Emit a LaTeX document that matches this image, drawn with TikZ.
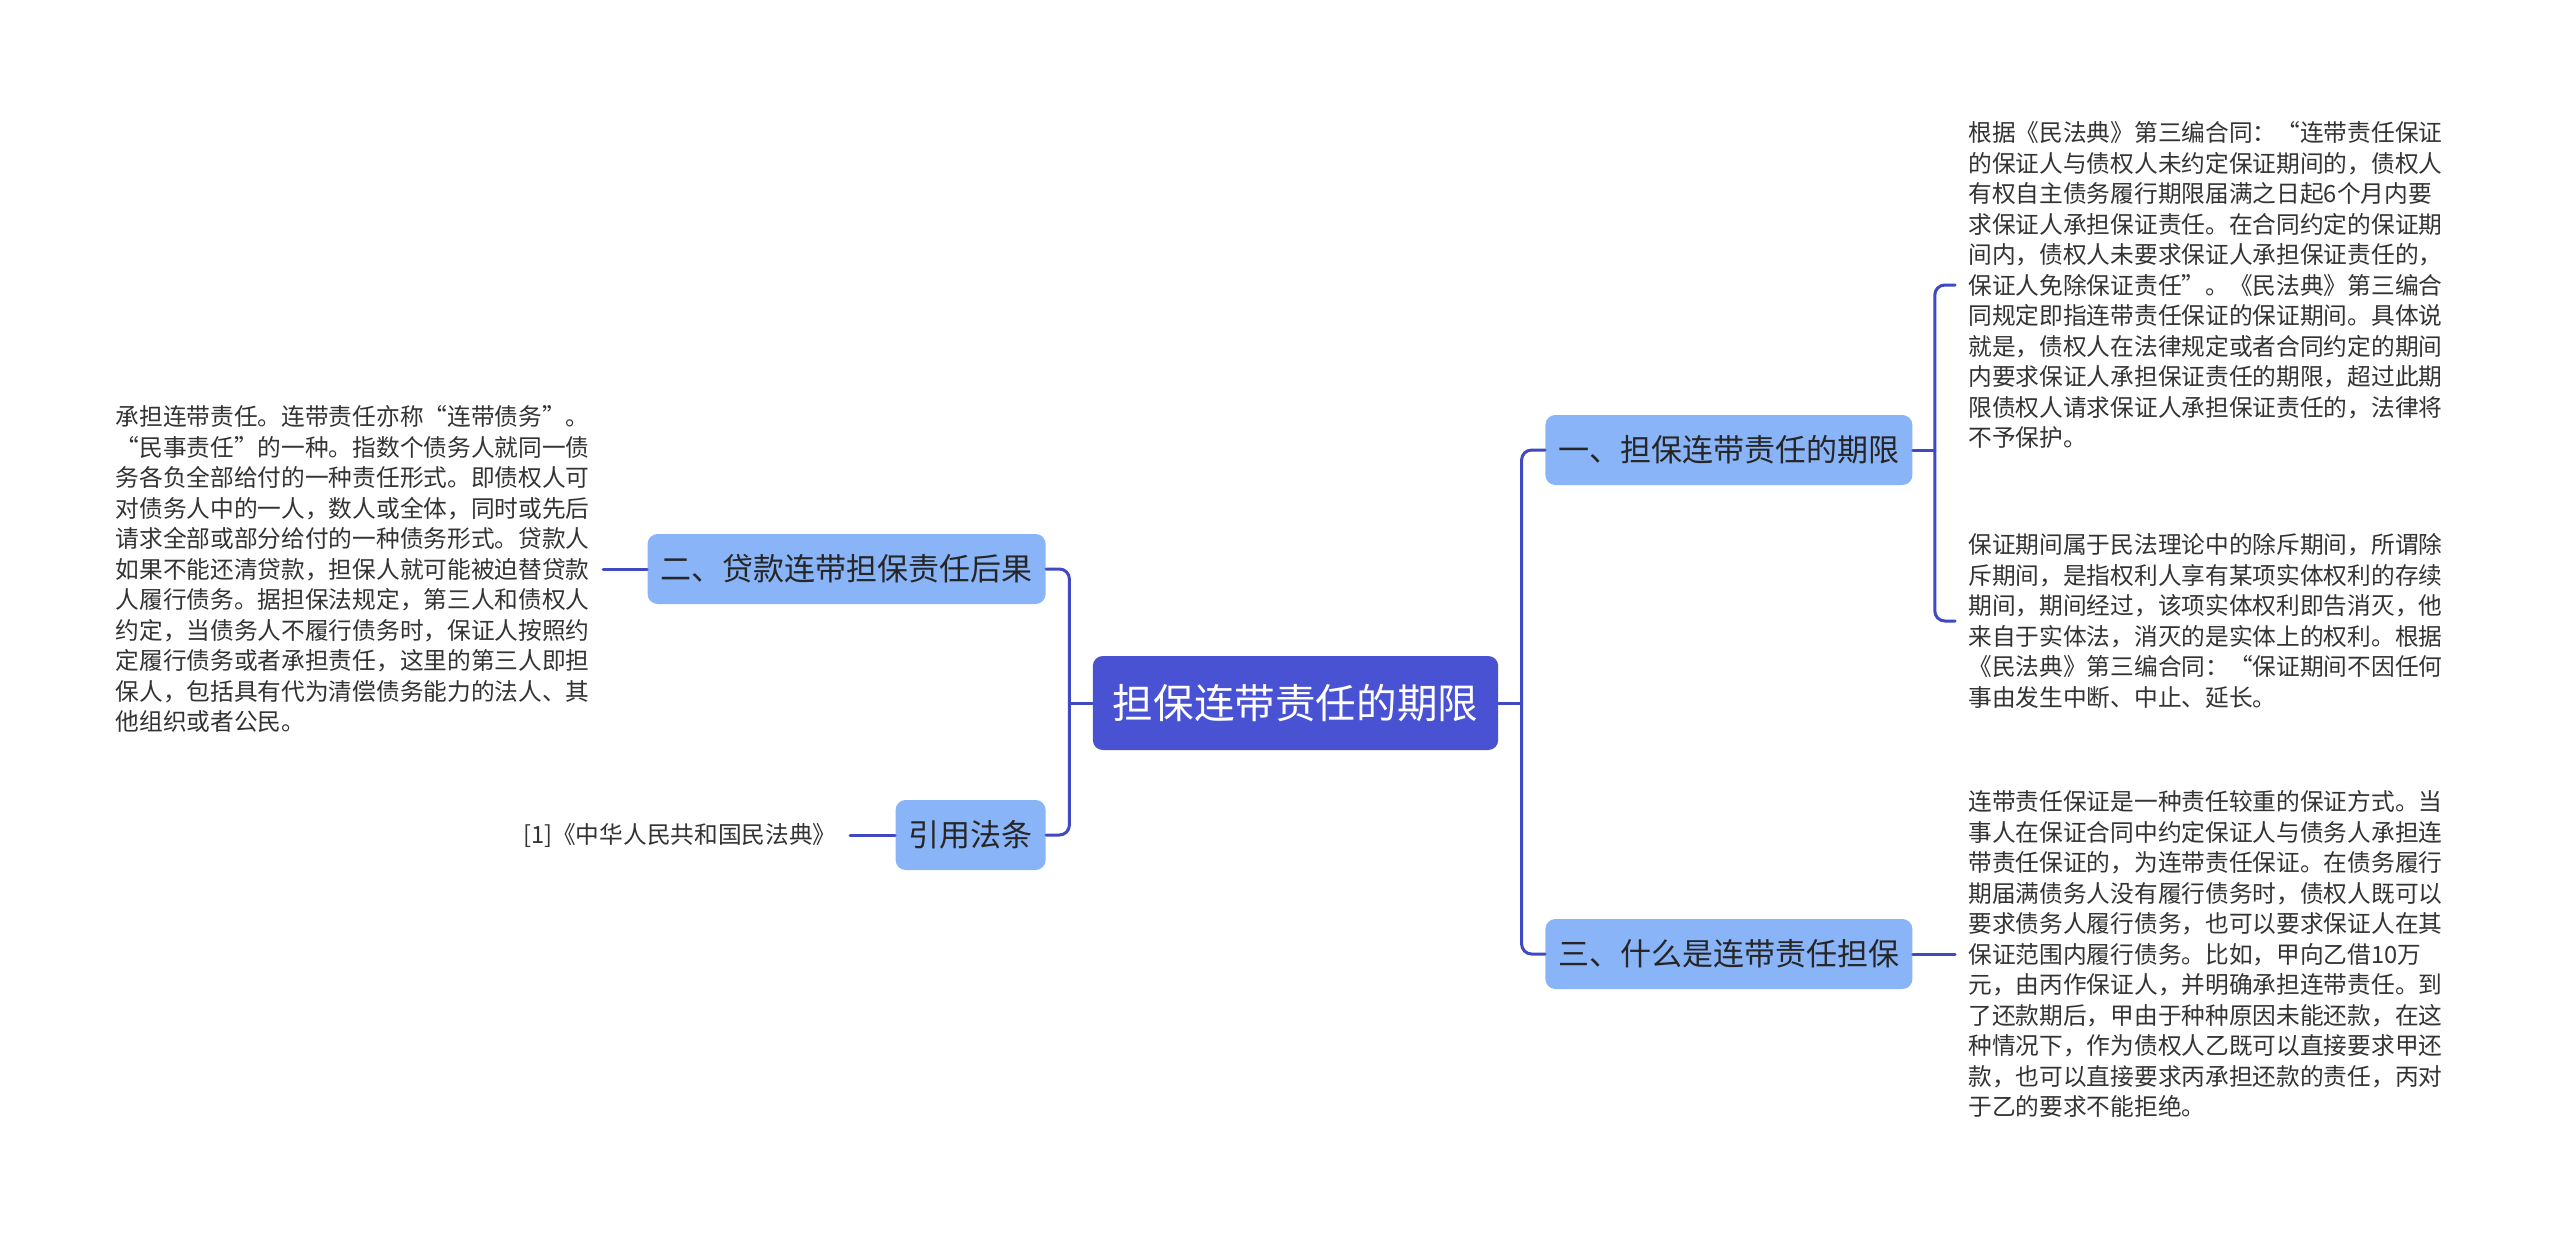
\documentclass[tikz,border=0pt]{standalone}
\usepackage{fontspec}
\newfontfamily\cjk{Noto Sans CJK SC}
\definecolor{rootblue}{HTML}{4A52D4}
\definecolor{subblue}{HTML}{8AB4F8}
\definecolor{linkblue}{HTML}{4048C2}
\definecolor{txtgray}{HTML}{333333}
\begin{document}
\begin{tikzpicture}[x=0.5pt,y=-0.5pt,line join=round,line cap=round,
	root/.style={fill=rootblue,text=white,rounded corners=5pt,inner xsep=10pt,minimum height=47pt,font=\cjk\fontsize{20.3}{24}\selectfont},
	topic/.style={fill=subblue,text=black!85,rounded corners=5pt,inner xsep=6.5pt,minimum height=35pt,font=\cjk\fontsize{15.5}{18}\selectfont},
	note/.style={text=txtgray,align=left,inner xsep=6.5pt,inner ysep=0pt,font=\cjk\fontsize{11.85}{15.25}\selectfont},
	link/.style={draw=linkblue,line width=1.5pt}]
	\fill[white] (0,0) rectangle (2560,1237);
	\useasboundingbox (0,0) rectangle (2560,1237);
	\node[root] (root) at (1295.5,703) {担保连带责任的期限};
	\node[topic,anchor=west] (t1) at (1545,450) {一、担保连带责任的期限};
	\node[topic,anchor=west] (t3) at (1545,954) {三、什么是连带责任担保};
	\node[topic,anchor=east] (t2) at (1046,569) {二、贷款连带担保责任后果};
	\node[topic,anchor=east] (t4) at (1046,835) {引用法条};
	% notes
	\node[note,anchor=west] (nA) at (1955,285) {根据《民法典》第三编合同：“连带责任保证\\
		的保证人与债权人未约定保证期间的，债权人\\
		有权自主债务履行期限届满之日起6个月内要\\
		求保证人承担保证责任。在合同约定的保证期\\
		间内，债权人未要求保证人承担保证责任的，\\
		保证人免除保证责任”。《民法典》第三编合\\
		同规定即指连带责任保证的保证期间。具体说\\
		就是，债权人在法律规定或者合同约定的期间\\
		内要求保证人承担保证责任的期限，超过此期\\
		限债权人请求保证人承担保证责任的，法律将\\
		不予保护。};
	\node[note,anchor=west] (nB) at (1955,621) {保证期间属于民法理论中的除斥期间，所谓除\\
		斥期间，是指权利人享有某项实体权利的存续\\
		期间，期间经过，该项实体权利即告消灭，他\\
		来自于实体法，消灭的是实体上的权利。根据\\
		《民法典》第三编合同：“保证期间不因任何\\
		事由发生中断、中止、延长。};
	\node[note,anchor=west] (nC) at (1955,954) {连带责任保证是一种责任较重的保证方式。当\\
		事人在保证合同中约定保证人与债务人承担连\\
		带责任保证的，为连带责任保证。在债务履行\\
		期届满债务人没有履行债务时，债权人既可以\\
		要求债务人履行债务，也可以要求保证人在其\\
		保证范围内履行债务。比如，甲向乙借10万\\
		元，由丙作保证人，并明确承担连带责任。到\\
		了还款期后，甲由于种种原因未能还款，在这\\
		种情况下，作为债权人乙既可以直接要求甲还\\
		款，也可以直接要求丙承担还款的责任，丙对\\
		于乙的要求不能拒绝。};
	\node[note,anchor=east] (nD) at (603,569) {承担连带责任。连带责任亦称“连带债务”。\\
		“民事责任”的一种。指数个债务人就同一债\\
		务各负全部给付的一种责任形式。即债权人可\\
		对债务人中的一人，数人或全体，同时或先后\\
		请求全部或部分给付的一种债务形式。贷款人\\
		如果不能还清贷款，担保人就可能被迫替贷款\\
		人履行债务。据担保法规定，第三人和债权人\\
		约定，当债务人不履行债务时，保证人按照约\\
		定履行债务或者承担责任，这里的第三人即担\\
		保人，包括具有代为清偿债务能力的法人、其\\
		他组织或者公民。};
	\node[note,anchor=east] (nE) at (850,835) {[1]《中华人民共和国民法典》};
	% links
	\draw[link] (root.east) -- ++(23,0) coordinate (rj);
	\draw[link,rounded corners=5pt] (t1.west) -- (t1.west -| rj) -- (t3.west -| rj) -- (t3.west);
	\draw[link] (root.west) -- ++(-23,0) coordinate (lj);
	\draw[link,rounded corners=5pt] (t2.east) -- (t2.east -| lj) -- (t4.east -| lj) -- (t4.east);
	\draw[link] (t1.east) -- ++(22,0) coordinate (bj);
	\draw[link,rounded corners=5pt] (nA.west) -- (nA.west -| bj) -- (nB.west -| bj) -- (nB.west);
	\draw[link] (t3.east) -- (nC.west);
	\draw[link] (t2.west) -- (nD.east);
	\draw[link] (t4.west) -- (nE.east);
\end{tikzpicture}
\end{document}
